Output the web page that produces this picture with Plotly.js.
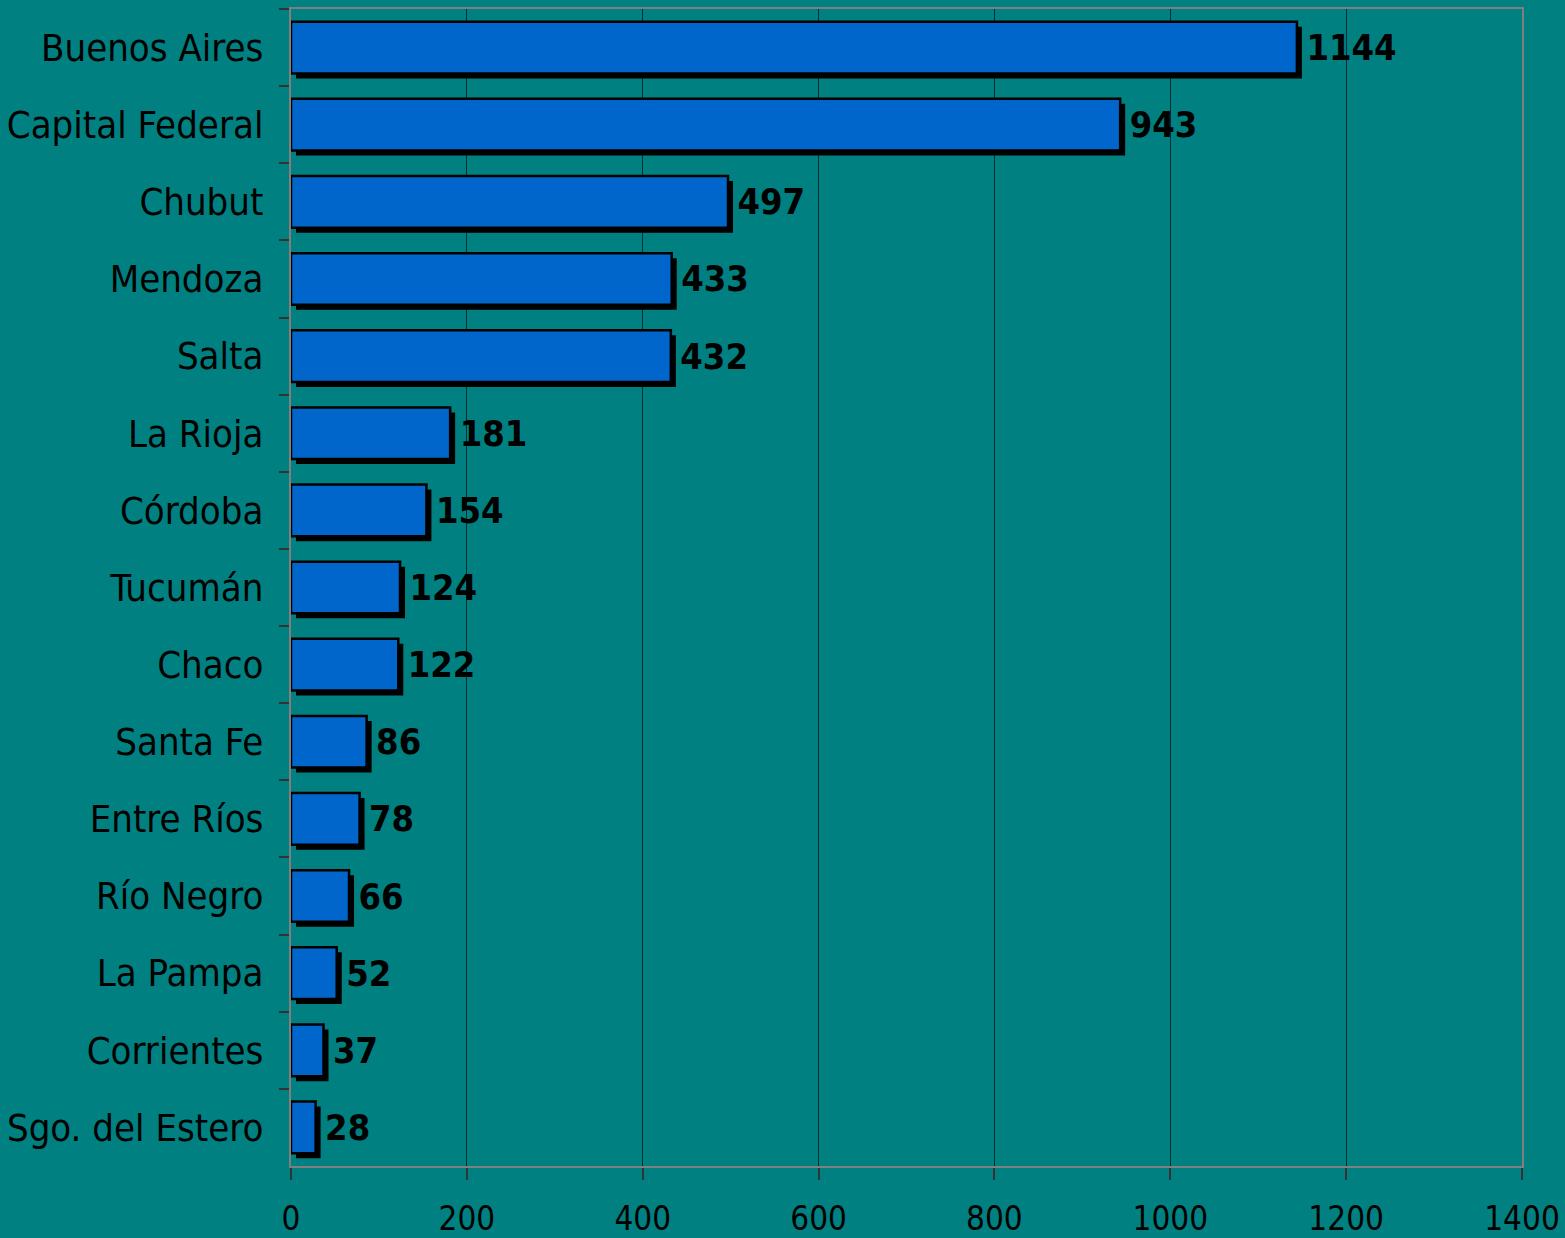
<!DOCTYPE html>
<html>
<head>
<meta charset="utf-8">
<script src="https://cdn.plot.ly/plotly-3.0.1.min.js"></script>
<style>
html,body{margin:0;padding:0;background:#008080;}
#chart{width:1565px;height:1238px;}
</style>
</head>
<body>
<div id="chart"></div>
<script>
const provinces = ["Buenos Aires","Capital Federal","Chubut","Mendoza","Salta","La Rioja","Córdoba","Tucumán","Chaco","Santa Fe","Entre Ríos","Río Negro","La Pampa","Corrientes","Sgo. del Estero"];
const values = [1144,943,497,433,432,181,154,124,122,86,78,66,52,37,28];
const xTicks = [0,200,400,600,800,1000,1200,1400];

const FONT = "'Liberation Sans Narrow','Arial Narrow','DejaVu Sans Condensed',sans-serif";
const W = 1565, H = 1238;
const margin = {l:291, r:43, t:9, b:72};
const plotW = W - margin.l - margin.r;
const plotH = H - margin.t - margin.b;
const shadowPx = 5;
const xMax = 1400;
const dx = shadowPx * xMax / plotW;
const n = provinces.length;
const dy = shadowPx * n / plotH;

const shadow = {
  type:'bar', orientation:'h', x: values, y: provinces,
  xaxis:'x', yaxis:'y',
  marker:{color:'#000000', line:{width:0}},
  width:0.67, hoverinfo:'skip', showlegend:false
};
const bars = {
  type:'bar', orientation:'h', x: values, y: provinces,
  xaxis:'x2', yaxis:'y2',
  marker:{color:'#0066CC', line:{color:'#000000', width:2.5}},
  width:0.67,
  texttemplate:'\u2009%{x}', textposition:'outside', cliponaxis:false,
  textfont:{family:FONT, size:36, color:'#000000', weight:'bold'},
  showlegend:false
};

const layout = {
  width:W, height:H, margin:margin,
  paper_bgcolor:'#008080', plot_bgcolor:'#008080',
  font:{family:FONT, color:'#000000'},
  bargap:0.33,
  xaxis:{range:[-dx, xMax-dx], visible:false, fixedrange:true},
  yaxis:{type:'category', categoryarray:provinces, range:[n-0.5-dy, -0.5-dy], visible:false},
  xaxis2:{overlaying:'x', anchor:'y2', side:'bottom', range:[0,xMax],
    tickvals:xTicks, ticktext:xTicks.map(String),
    showgrid:true, gridcolor:'#002e2e', gridwidth:1, zeroline:false,
    showline:true, linecolor:'#7f7f7f', linewidth:2, mirror:true,
    ticks:'outside', ticklen:12, tickcolor:'#333333', tickwidth:2,
    tickfont:{family:FONT, size:33, color:'#000000'}, ticklabelstandoff:10},
  yaxis2:{overlaying:'y', anchor:'x2', side:'left', type:'category', categoryarray:provinces,
    range:[n-0.5, -0.5], tickson:'boundaries',
    showgrid:false, zeroline:false,
    showline:true, linecolor:'#7f7f7f', linewidth:2, mirror:true,
    ticks:'outside', ticklen:10, tickcolor:'#333333', tickwidth:2,
    tickfont:{family:FONT, size:38, color:'#000000'}, ticklabelstandoff:18}
};

Plotly.newPlot('chart', [shadow, bars], layout, {displayModeBar:false, staticPlot:true});
</script>
</body>
</html>
